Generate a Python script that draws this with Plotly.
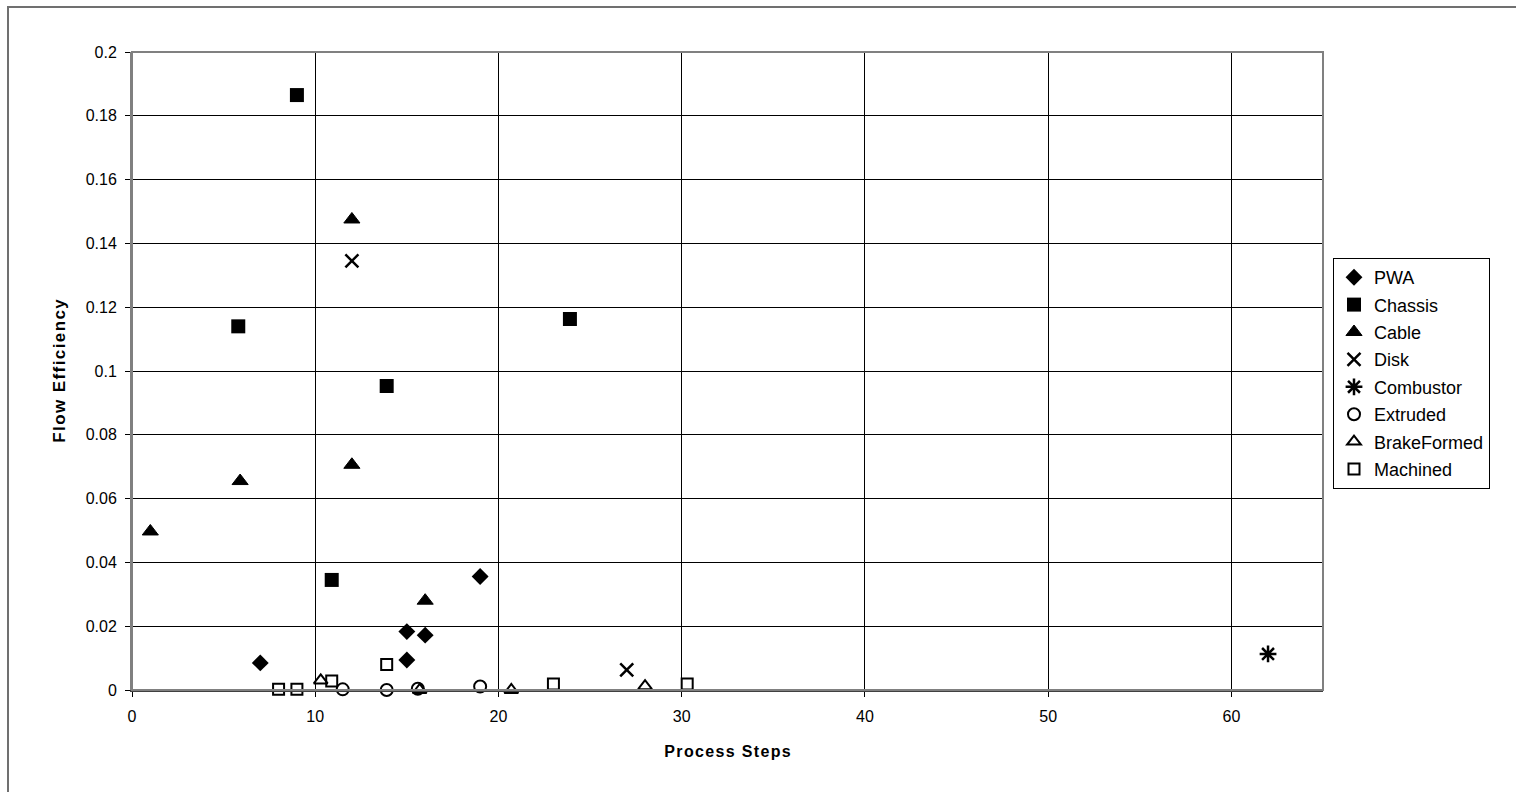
import plotly.graph_objects as go

# ---- data ----
pwa_x = [7, 15, 16, 15, 19]
pwa_y = [0.0085, 0.0183, 0.0172, 0.0094, 0.0356]

chassis_x = [9, 5.8, 23.9, 13.9, 10.9]
chassis_y = [0.1865, 0.1140, 0.1163, 0.0953, 0.0345]

cable_x = [12, 12, 5.9, 1, 16]
cable_y = [0.1475, 0.0706, 0.0655, 0.0497, 0.0280]

disk_x = [12, 27]
disk_y = [0.1345, 0.0063]

combustor_x = [62]
combustor_y = [0.0113]

extruded_x = [11.5, 13.9, 15.6, 19]
extruded_y = [0.0002, 0.0, 0.0004, 0.0011]

brake_x = [10.3, 15.7, 20.7, 28]
brake_y = [0.0030, 0.0, 0.0, 0.0012]

machined_x = [8, 9, 10.9, 13.9, 23, 30.3]
machined_y = [0.0002, 0.0002, 0.0028, 0.0080, 0.0019, 0.0019]

x_ticks = [0, 10, 20, 30, 40, 50, 60]
y_ticks = [0, 0.02, 0.04, 0.06, 0.08, 0.1, 0.12, 0.14, 0.16, 0.18, 0.2]
y_tick_text = ["0", "0.02", "0.04", "0.06", "0.08", "0.1", "0.12", "0.14", "0.16", "0.18", "0.2"]

FONT = "Liberation Sans, Arial, sans-serif"
BLACK = "#000000"


def spaced(s):
    return "\u200a".join(s)


series = [
    ("PWA", pwa_x, pwa_y, dict(symbol="diamond", size=13, color=BLACK)),
    ("Chassis", chassis_x, chassis_y, dict(symbol="square", size=14, color=BLACK)),
    ("Cable", cable_x, cable_y, dict(symbol="triangle-up", size=14, color=BLACK,
                                     line=dict(color=BLACK, width=1))),
    ("Disk", disk_x, disk_y, dict(symbol="x-thin-open", size=13, color=BLACK,
                                  line=dict(color=BLACK, width=2.5))),
    ("Combustor", combustor_x, combustor_y, dict(symbol="asterisk-open", size=14, color=BLACK,
                                                 line=dict(color=BLACK, width=2.5))),
    ("Extruded", extruded_x, extruded_y, dict(symbol="circle-open", size=12, color=BLACK,
                                              line=dict(color=BLACK, width=2))),
    ("BrakeFormed", brake_x, brake_y, dict(symbol="triangle-up-open", size=12, color=BLACK,
                                           line=dict(color=BLACK, width=2))),
    ("Machined", machined_x, machined_y, dict(symbol="square-open", size=11, color=BLACK,
                                              line=dict(color=BLACK, width=2))),
]

fig = go.Figure()
for i, (name, xs, ys, mk) in enumerate(series):
    fig.add_trace(go.Scatter(
        x=xs, y=ys, mode="markers", name=name, marker=mk,
        cliponaxis=False, legendgroup=f"g{i}",
    ))

W, H = 1516, 792
L, R, T, B = 132, 193, 52, 102
pw, ph = W - L - R, H - T - B

fig.update_layout(
    width=W, height=H,
    margin=dict(l=L, r=R, t=T, b=B, pad=0),
    paper_bgcolor="white", plot_bgcolor="white",
    font=dict(family=FONT, size=16, color=BLACK),
    showlegend=True,
    legend=dict(
        x=(1333 - L) / pw, y=(H - B - 258) / ph, xanchor="left", yanchor="top",
        bgcolor="white", bordercolor="#000000", borderwidth=1,
        font=dict(family=FONT, size=18, color=BLACK),
        tracegroupgap=1, itemwidth=30,
    ),
    xaxis=dict(
        range=[0, 65], tickvals=x_ticks, ticktext=[str(v) for v in x_ticks],
        showgrid=True, gridcolor="#000000", gridwidth=1,
        zeroline=False, showline=True, linecolor="#404040", linewidth=2,
        ticks="outside", ticklen=5, tickcolor="#000000", ticklabelstandoff=6,
        tickfont=dict(family=FONT, size=16),
        title=dict(text="<b>" + spaced("Process Steps") + "</b>",
                   font=dict(family=FONT, size=16), standoff=22),
    ),
    yaxis=dict(
        range=[0, 0.2], tickvals=y_ticks, ticktext=y_tick_text,
        showgrid=True, gridcolor="#000000", gridwidth=1,
        zeroline=False, showline=True, linecolor="#808080", linewidth=2,
        ticks="outside", ticklen=5, tickcolor="#000000", ticklabelstandoff=5,
        tickfont=dict(family=FONT, size=16),
        title=dict(text="<b>" + spaced("Flow Efficiency") + "</b>",
                   font=dict(family=FONT, size=17), standoff=16),
    ),
)

# plot-area border (gray)
fig.add_shape(type="rect", xref="paper", yref="paper", x0=0, y0=0, x1=1, y1=1,
              line=dict(color="#808080", width=2), layer="above")
# outer chart border (cropped at right/bottom)
fig.add_shape(type="rect", xref="paper", yref="paper",
              x0=(8 - L) / pw, x1=(W + 20 - L) / pw,
              y0=(H - B - (H + 20)) / ph, y1=(H - B - 7) / ph,
              line=dict(color="#707070", width=2), layer="below")

fig.write_html("out.html")
